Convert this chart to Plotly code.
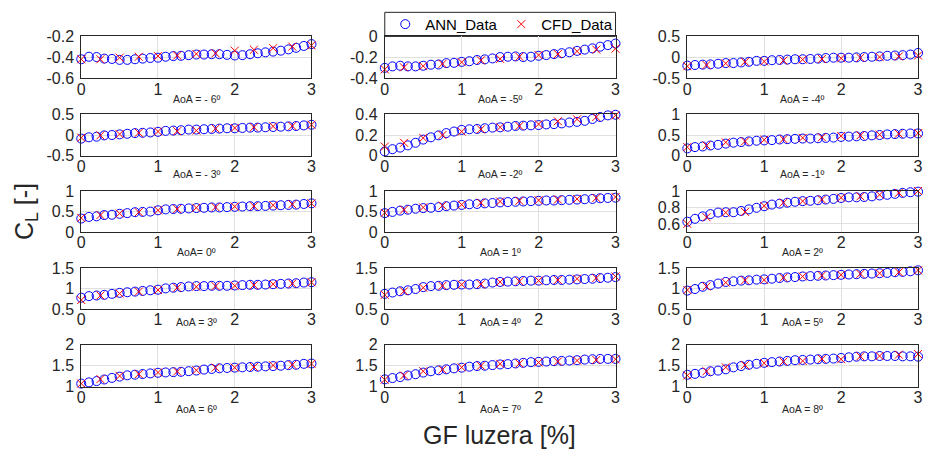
import plotly.graph_objects as go

# GF length [%] at which the ANN and CFD lift coefficients are given
gf_ann = [0.0, 0.1, 0.2, 0.3, 0.4, 0.5, 0.6, 0.7, 0.8, 0.9, 1.0,
          1.1, 1.2, 1.3, 1.4, 1.5, 1.6, 1.7, 1.8, 1.9, 2.0,
          2.1, 2.2, 2.3, 2.4, 2.5, 2.6, 2.7, 2.8, 2.9, 3.0]
gf_cfd = [0.0, 0.25, 0.5, 0.75, 1.0, 1.25, 1.5, 1.75, 2.0, 2.25, 2.5, 2.75, 3.0]

aoa_labels = ["AoA = - 6º", "AoA = -5º", "AoA = -4º",
              "AoA = - 3º", "AoA = -2º", "AoA = -1º",
              "AoA= 0º", "AoA = 1º", "AoA = 2º",
              "AoA = 3º", "AoA = 4º", "AoA = 5º",
              "AoA = 6º", "AoA = 7º", "AoA = 8º"]

# ANN predictions of C_L, one list per angle of attack
cl_ann_m6 = [-0.418, -0.394, -0.397, -0.412, -0.415, -0.424, -0.424, -0.418, -0.412, -0.406, -0.403,
             -0.394, -0.388, -0.385, -0.379, -0.373, -0.373, -0.370, -0.370, -0.376, -0.382,
             -0.379, -0.370, -0.361, -0.352, -0.345, -0.336, -0.324, -0.309, -0.291, -0.273]
cl_ann_m5 = [-0.300, -0.286, -0.280, -0.286, -0.286, -0.280, -0.270, -0.268, -0.255, -0.252, -0.243,
             -0.237, -0.225, -0.219, -0.210, -0.197, -0.194, -0.191, -0.197, -0.194, -0.185,
             -0.178, -0.169, -0.160, -0.151, -0.138, -0.126, -0.114, -0.098, -0.083, -0.068]
cl_ann_m4 = [-0.197, -0.182, -0.174, -0.167, -0.152, -0.136, -0.136, -0.121, -0.106, -0.083, -0.083,
             -0.068, -0.061, -0.053, -0.045, -0.045, -0.038, -0.030, -0.015, -0.008, -0.008,
             -0.008, 0.000, 0.008, 0.015, 0.023, 0.038, 0.045, 0.053, 0.068, 0.106]
cl_ann_m3 = [-0.086, -0.055, -0.040, -0.008, 0.000, 0.016, 0.031, 0.047, 0.055, 0.063, 0.078,
             0.102, 0.109, 0.117, 0.133, 0.133, 0.141, 0.148, 0.156, 0.164, 0.164,
             0.172, 0.180, 0.180, 0.188, 0.195, 0.203, 0.211, 0.219, 0.234, 0.250]
cl_ann_m2 = [0.041, 0.063, 0.078, 0.100, 0.125, 0.156, 0.178, 0.197, 0.219, 0.234, 0.250,
             0.256, 0.259, 0.266, 0.272, 0.275, 0.281, 0.288, 0.291, 0.294, 0.297,
             0.303, 0.306, 0.313, 0.322, 0.328, 0.338, 0.356, 0.375, 0.391, 0.397]
cl_ann_m1 = [0.177, 0.208, 0.223, 0.246, 0.262, 0.292, 0.315, 0.330, 0.346, 0.362, 0.370,
             0.377, 0.392, 0.400, 0.408, 0.415, 0.415, 0.423, 0.431, 0.438, 0.454,
             0.462, 0.469, 0.477, 0.492, 0.500, 0.515, 0.523, 0.531, 0.538, 0.540]
cl_ann_0 = [0.331, 0.369, 0.385, 0.415, 0.423, 0.446, 0.462, 0.485, 0.492, 0.500, 0.531,
            0.554, 0.562, 0.569, 0.577, 0.585, 0.592, 0.600, 0.600, 0.608, 0.615,
            0.623, 0.631, 0.631, 0.638, 0.646, 0.654, 0.662, 0.669, 0.685, 0.700]
cl_ann_1 = [0.462, 0.492, 0.523, 0.546, 0.569, 0.585, 0.592, 0.608, 0.631, 0.646, 0.662,
            0.677, 0.685, 0.700, 0.708, 0.723, 0.731, 0.738, 0.746, 0.754, 0.762,
            0.769, 0.769, 0.777, 0.785, 0.792, 0.800, 0.808, 0.823, 0.831, 0.838]
cl_ann_2 = [0.627, 0.662, 0.692, 0.719, 0.738, 0.742, 0.742, 0.758, 0.777, 0.796, 0.815,
            0.835, 0.846, 0.858, 0.869, 0.877, 0.881, 0.888, 0.896, 0.904, 0.915,
            0.923, 0.923, 0.927, 0.935, 0.946, 0.954, 0.965, 0.977, 0.985, 0.992]
cl_ann_3 = [0.776, 0.815, 0.830, 0.846, 0.870, 0.894, 0.909, 0.925, 0.941, 0.957, 0.972,
            1.004, 1.020, 1.035, 1.051, 1.059, 1.059, 1.067, 1.067, 1.067, 1.075,
            1.083, 1.091, 1.091, 1.098, 1.106, 1.114, 1.122, 1.130, 1.146, 1.154]
cl_ann_4 = [0.870, 0.902, 0.933, 0.957, 0.988, 1.035, 1.059, 1.067, 1.083, 1.091, 1.098,
            1.098, 1.106, 1.122, 1.146, 1.161, 1.169, 1.177, 1.185, 1.193, 1.193,
            1.201, 1.209, 1.209, 1.217, 1.224, 1.232, 1.240, 1.256, 1.264, 1.280]
cl_ann_5 = [0.949, 0.988, 1.043, 1.083, 1.122, 1.161, 1.177, 1.193, 1.201, 1.217, 1.224,
            1.240, 1.256, 1.272, 1.280, 1.295, 1.303, 1.311, 1.319, 1.327, 1.335,
            1.343, 1.350, 1.358, 1.366, 1.374, 1.382, 1.398, 1.406, 1.421, 1.445]
cl_ann_6 = [1.076, 1.106, 1.136, 1.174, 1.212, 1.242, 1.273, 1.288, 1.303, 1.318, 1.333,
            1.341, 1.348, 1.356, 1.371, 1.386, 1.409, 1.424, 1.439, 1.447, 1.455,
            1.462, 1.470, 1.477, 1.485, 1.492, 1.500, 1.515, 1.523, 1.545, 1.553]
cl_ann_7 = [1.177, 1.208, 1.231, 1.269, 1.300, 1.338, 1.369, 1.392, 1.415, 1.438, 1.454,
            1.477, 1.492, 1.500, 1.515, 1.531, 1.538, 1.554, 1.569, 1.585, 1.592,
            1.600, 1.608, 1.615, 1.623, 1.631, 1.646, 1.654, 1.662, 1.662, 1.662]
cl_ann_8 = [1.285, 1.308, 1.331, 1.369, 1.385, 1.415, 1.462, 1.492, 1.523, 1.546, 1.569,
            1.585, 1.600, 1.615, 1.631, 1.638, 1.646, 1.654, 1.662, 1.669, 1.685,
            1.700, 1.715, 1.723, 1.723, 1.731, 1.731, 1.731, 1.723, 1.723, 1.715]

# CFD results of C_L, one list per angle of attack
cl_cfd_m6 = [-0.418, -0.418, -0.403, -0.394, -0.388, -0.382, -0.367, -0.361, -0.336, -0.327, -0.312, -0.297, -0.285]
cl_cfd_m5 = [-0.314, -0.295, -0.283, -0.262, -0.246, -0.228, -0.215, -0.194, -0.178, -0.169, -0.142, -0.126, -0.117]
cl_cfd_m4 = [-0.212, -0.182, -0.144, -0.106, -0.098, -0.076, -0.053, -0.038, -0.023, -0.008, 0.008, 0.023, 0.045]
cl_cfd_m3 = [-0.063, -0.008, 0.023, 0.055, 0.086, 0.094, 0.109, 0.156, 0.172, 0.188, 0.211, 0.219, 0.250]
cl_cfd_m2 = [0.088, 0.125, 0.172, 0.200, 0.234, 0.256, 0.275, 0.288, 0.306, 0.334, 0.353, 0.375, 0.391]
cl_cfd_m1 = [0.208, 0.246, 0.323, 0.346, 0.385, 0.400, 0.431, 0.446, 0.477, 0.492, 0.508, 0.531, 0.546]
cl_cfd_0 = [0.346, 0.415, 0.454, 0.485, 0.531, 0.562, 0.592, 0.608, 0.623, 0.631, 0.654, 0.677, 0.700]
cl_cfd_1 = [0.469, 0.546, 0.600, 0.646, 0.669, 0.715, 0.746, 0.762, 0.777, 0.792, 0.808, 0.831, 0.854]
cl_cfd_2 = [0.600, 0.681, 0.738, 0.746, 0.819, 0.858, 0.877, 0.896, 0.919, 0.935, 0.954, 0.977, 1.000]
cl_cfd_3 = [0.720, 0.830, 0.878, 0.925, 0.965, 1.020, 1.043, 1.059, 1.067, 1.083, 1.106, 1.122, 1.154]
cl_cfd_4 = [0.846, 0.933, 1.020, 1.067, 1.098, 1.106, 1.161, 1.177, 1.193, 1.209, 1.240, 1.256, 1.295]
cl_cfd_5 = [0.965, 1.051, 1.146, 1.201, 1.209, 1.264, 1.295, 1.319, 1.335, 1.358, 1.374, 1.398, 1.445]
cl_cfd_6 = [1.076, 1.182, 1.258, 1.303, 1.341, 1.364, 1.394, 1.455, 1.455, 1.470, 1.508, 1.523, 1.545]
cl_cfd_7 = [1.169, 1.269, 1.369, 1.408, 1.462, 1.500, 1.546, 1.554, 1.577, 1.600, 1.623, 1.638, 1.654]
cl_cfd_8 = [1.269, 1.369, 1.462, 1.515, 1.562, 1.600, 1.615, 1.662, 1.654, 1.723, 1.731, 1.762, 1.777]

ann_sets = [cl_ann_m6, cl_ann_m5, cl_ann_m4, cl_ann_m3, cl_ann_m2, cl_ann_m1, cl_ann_0, cl_ann_1,
            cl_ann_2, cl_ann_3, cl_ann_4, cl_ann_5, cl_ann_6, cl_ann_7, cl_ann_8]
cfd_sets = [cl_cfd_m6, cl_cfd_m5, cl_cfd_m4, cl_cfd_m3, cl_cfd_m2, cl_cfd_m1, cl_cfd_0, cl_cfd_1,
            cl_cfd_2, cl_cfd_3, cl_cfd_4, cl_cfd_5, cl_cfd_6, cl_cfd_7, cl_cfd_8]

# y-axis limits and ticks of each panel
y_ranges = [[-0.6, -0.2], [-0.4, 0], [-0.5, 0.5],
            [-0.5, 0.5], [0, 0.4], [0, 1],
            [0, 1], [0, 1], [0.5, 1],
            [0.5, 1.5], [0.5, 1.5], [0.5, 1.5],
            [1, 2], [1, 2], [1, 2]]
y_ticks = [[-0.6, -0.4, -0.2], [-0.4, -0.2, 0], [-0.5, 0, 0.5],
           [-0.5, 0, 0.5], [0, 0.2, 0.4], [0, 0.5, 1],
           [0, 0.5, 1], [0, 0.5, 1], [0.6, 0.8, 1],
           [0.5, 1, 1.5], [0.5, 1, 1.5], [0.5, 1, 1.5],
           [1, 1.5, 2], [1, 1.5, 2], [1, 1.5, 2]]
x_ticks = [0, 1, 2, 3]

W, H = 929, 462
col_px = [(78, 310.5), (384.5, 617.5), (690, 923)]
row_px = [(29.5, 73), (110.5, 153.3), (190, 232.7), (270, 312.5), (349.5, 393.3)]
label_drop = [21, 19, 21, 14, 23]

FONT = "Arial, Liberation Sans, Helvetica, sans-serif"
TXT = "#262626"
BLUE = "#0000ff"
RED = "#ff0000"


def fmt(v):
    return f"{v:g}"


fig = go.Figure()
layout = {}
annotations = []

for i in range(15):
    r, c = divmod(i, 3)
    k = "" if i == 0 else str(i + 1)
    x0, x1 = col_px[c]
    y0, y1 = row_px[r]
    fig.add_trace(go.Scatter(
        x=gf_ann, y=ann_sets[i], mode="markers", name="ANN_Data",
        showlegend=(i == 0), legendgroup="ann",
        marker=dict(symbol="circle-open", size=9, color=BLUE, line=dict(width=1, color=BLUE)),
        xaxis="x" + k, yaxis="y" + k, cliponaxis=False))
    fig.add_trace(go.Scatter(
        x=gf_cfd, y=cfd_sets[i], mode="markers", name="CFD_Data",
        showlegend=(i == 0), legendgroup="cfd",
        marker=dict(symbol="x-thin-open", size=8, color=RED, line=dict(width=1, color=RED)),
        xaxis="x" + k, yaxis="y" + k, cliponaxis=False))
    common = dict(showline=True, linecolor="#262626", linewidth=1, mirror=True,
                  showgrid=True, gridcolor="#dfdfdf", gridwidth=1, zeroline=False,
                  ticks="", tickfont=dict(family=FONT, size=16, color=TXT))
    layout["xaxis" + k] = dict(domain=[x0 / W, x1 / W], anchor="y" + k, range=[0, 3],
                               tickvals=x_ticks, ticktext=[fmt(v) for v in x_ticks],
                               ticklabelstandoff=-4, **common)
    layout["yaxis" + k] = dict(domain=[1 - y1 / H, 1 - y0 / H], anchor="x" + k,
                               range=y_ranges[i], tickvals=y_ticks[i],
                               ticktext=[fmt(v) for v in y_ticks[i]],
                               ticklabelstandoff=3, **common)
    annotations.append(dict(
        text=aoa_labels[i], xref="x" + k, yref="paper", x=1.5,
        y=1 - (y1 + label_drop[r]) / H, showarrow=False,
        font=dict(family=FONT, size=10.5, color=TXT), xanchor="center", yanchor="middle"))

annotations.append(dict(text="C<sub>L</sub> [-]", xref="paper", yref="paper",
                        x=22 / W, y=1 - 211 / H, textangle=-90, showarrow=False,
                        font=dict(family=FONT, size=25, color=TXT),
                        xanchor="center", yanchor="middle"))
annotations.append(dict(text="GF luzera [%]", xref="paper", yref="paper",
                        x=500 / W, y=1 - 443 / H, showarrow=False,
                        font=dict(family=FONT, size=25, color=TXT),
                        xanchor="center", yanchor="middle"))

# legend frame spanning the middle column
shapes = [dict(type="rect", xref="paper", yref="paper",
               x0=384.5 / W, x1=617.5 / W, y0=1 - 29.5 / H, y1=1 - 4.5 / H,
               line=dict(color="#262626", width=1), fillcolor="white", layer="below")]

fig.update_layout(
    width=W, height=H, margin=dict(l=0, r=0, t=0, b=0),
    paper_bgcolor="white", plot_bgcolor="rgba(0,0,0,0)",
    showlegend=True,
    legend=dict(orientation="h", x=385 / W, y=1 - 17 / H, xanchor="left", yanchor="middle",
                bgcolor="rgba(0,0,0,0)", borderwidth=0,
                font=dict(family=FONT, size=15, color="black"),
                entrywidth=71, itemwidth=30),
    annotations=annotations,
    shapes=shapes,
    **layout)

fig.write_html("out.html")
